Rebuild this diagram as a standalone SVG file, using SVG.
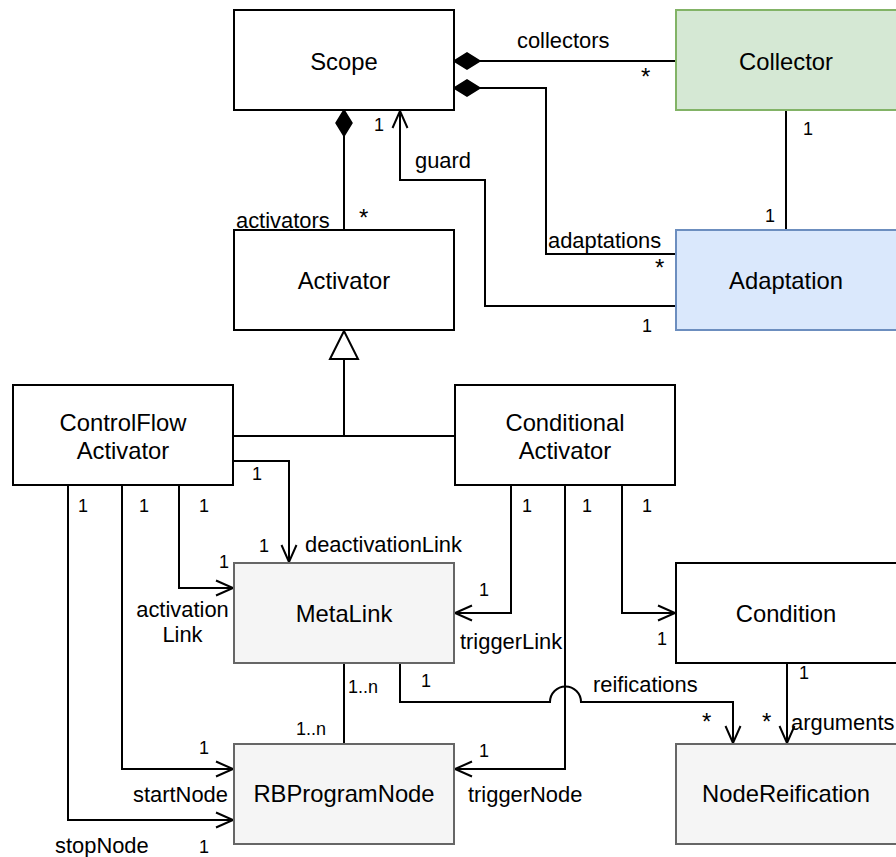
<svg xmlns="http://www.w3.org/2000/svg" width="896" height="857" viewBox="0 0 896 857">
<style>
.box{stroke:#000;stroke-width:2;fill:#fff}
.green{fill:#d5e8d4;stroke:#82b366}
.blue{fill:#dae8fc;stroke:#6c8ebf}
.grey{fill:#f5f5f5;stroke:#666666}
.nt{font-family:"Liberation Sans",Arial,sans-serif;font-size:23.8px;text-anchor:middle;fill:#000}
.lb{font-family:"Liberation Sans",Arial,sans-serif;font-size:21.9px;fill:#000}
.m{font-family:"Liberation Sans",Arial,sans-serif;font-size:18px;fill:#000}
.s{font-family:"Liberation Sans",Arial,sans-serif;font-size:24px;fill:#000}
.c{fill:none;stroke:#000;stroke-width:2}
</style>
<defs>
<marker id="open" markerUnits="userSpaceOnUse" orient="auto" refX="0" refY="0" markerWidth="40" markerHeight="40" viewBox="-20 -20 40 40" overflow="visible">
<path d="M-17,-7.5 L0,0 L-17,7.5" fill="none" stroke="#000" stroke-width="2"/>
</marker>
<marker id="diamond" markerUnits="userSpaceOnUse" orient="auto-start-reverse" refX="0" refY="0" markerWidth="40" markerHeight="40" viewBox="-30 -20 40 40" overflow="visible">
<path d="M0,0 L-13,-8 L-26,0 L-13,8 Z" fill="#000" stroke="#000" stroke-width="1.5"/>
</marker>
<marker id="tri" markerUnits="userSpaceOnUse" orient="auto" refX="0" refY="0" markerWidth="40" markerHeight="40" viewBox="-30 -20 40 40" overflow="visible">
<path d="M0,0 L-28,-14 L-28,14 Z" fill="#fff" stroke="#000" stroke-width="2"/>
</marker>
</defs>

<g id="connectors">
<path class="c" d="M454,61 H676" marker-start="url(#diamond)"/>
<path class="c" d="M454,88 H546 V254 H676" marker-start="url(#diamond)"/>
<path class="c" d="M344,110 V230" marker-start="url(#diamond)"/>
<path class="c" d="M676,306 H485 V180 H400 V111" marker-end="url(#open)"/>
<path class="c" d="M786,110 V230"/>
<path class="c" d="M344,436 V331" marker-end="url(#tri)"/>
<path class="c" d="M233,436 H455"/>
<path class="c" d="M233,461 H289 V562" marker-end="url(#open)"/>
<path class="c" d="M179,486 V588 H233" marker-end="url(#open)"/>
<path class="c" d="M122,486 V769 H233" marker-end="url(#open)"/>
<path class="c" d="M68,486 V820 H233" marker-end="url(#open)"/>
<path class="c" d="M511,486 V613 H455" marker-end="url(#open)"/>
<path class="c" d="M565,486 V769 H455" marker-end="url(#open)"/>
<path class="c" d="M622,486 V613 H675" marker-end="url(#open)"/>
<path class="c" d="M344,663 V744"/>
<path class="c" d="M400,663 V702 H550 A15.5,15.5 0 0 1 581,702 H733 V743" marker-end="url(#open)"/>
<path class="c" d="M787,663 V743" marker-end="url(#open)"/>

<text class="lb" x="517" y="48">collectors</text>
<text class="s" x="641" y="85">*</text>
<text class="lb" x="548" y="248">adaptations</text>
<text class="s" x="655" y="276">*</text>
<text class="lb" x="236" y="228">activators</text>
<text class="s" x="359" y="226">*</text>
<text class="m" x="374" y="131">1</text>
<text class="lb" x="415" y="168">guard</text>
<text class="m" x="642" y="332">1</text>
<text class="m" x="803" y="135">1</text>
<text class="m" x="765" y="222">1</text>
<text class="m" x="252" y="480">1</text>
<text class="m" x="78" y="512">1</text>
<text class="m" x="139" y="512">1</text>
<text class="m" x="199" y="512">1</text>
<text class="m" x="259" y="552">1</text>
<text class="lb" x="305" y="552">deactivationLink</text>
<text class="m" x="219" y="568">1</text>
<text class="lb" x="182.5" y="617" text-anchor="middle">activation</text>
<text class="lb" x="182.5" y="642" text-anchor="middle">Link</text>
<text class="m" x="522" y="512">1</text>
<text class="m" x="582" y="512">1</text>
<text class="m" x="642" y="512">1</text>
<text class="m" x="479" y="596">1</text>
<text class="lb" x="460" y="649">triggerLink</text>
<text class="m" x="657" y="645">1</text>
<text class="m" x="799" y="679">1</text>
<text class="m" x="421" y="687">1</text>
<text class="lb" x="593" y="692">reifications</text>
<text class="s" x="702" y="730">*</text>
<text class="s" x="762" y="730">*</text>
<text class="lb" x="791" y="730">arguments</text>
<text class="m" x="348" y="693">1..n</text>
<text class="m" x="296" y="735">1..n</text>
<text class="m" x="199" y="754">1</text>
<text class="lb" x="133" y="802">startNode</text>
<text class="lb" x="55" y="853">stopNode</text>
<text class="m" x="199" y="853">1</text>
<text class="m" x="479" y="757">1</text>
<text class="lb" x="468" y="802">triggerNode</text>
</g>

<g id="scope"><rect class="box" x="234" y="10" width="220" height="100"/><text class="nt" x="344" y="70">Scope</text></g>
<g id="collector"><rect class="box green" x="676" y="10" width="222" height="100"/><text class="nt" x="786" y="70">Collector</text></g>
<g id="activator"><rect class="box" x="234" y="230" width="220" height="100"/><text class="nt" x="344" y="289">Activator</text></g>
<g id="adaptation"><rect class="box blue" x="676" y="230" width="222" height="100"/><text class="nt" x="786" y="289">Adaptation</text></g>
<g id="controlflow-activator"><rect class="box" x="13" y="385" width="220" height="100"/><text class="nt" x="123" y="431">ControlFlow</text><text class="nt" x="123" y="459">Activator</text></g>
<g id="conditional-activator"><rect class="box" x="455" y="385" width="220" height="100"/><text class="nt" x="565" y="431">Conditional</text><text class="nt" x="565" y="459">Activator</text></g>
<g id="metalink"><rect class="box grey" x="234" y="563" width="220" height="100"/><text class="nt" x="344" y="622">MetaLink</text></g>
<g id="condition"><rect class="box" x="676" y="563" width="222" height="100"/><text class="nt" x="786" y="622">Condition</text></g>
<g id="rbprogramnode"><rect class="box grey" x="234" y="744" width="220" height="100"/><text class="nt" x="344" y="802">RBProgramNode</text></g>
<g id="nodereification"><rect class="box grey" x="676" y="744" width="222" height="100"/><text class="nt" x="786" y="802">NodeReification</text></g>
</svg>
